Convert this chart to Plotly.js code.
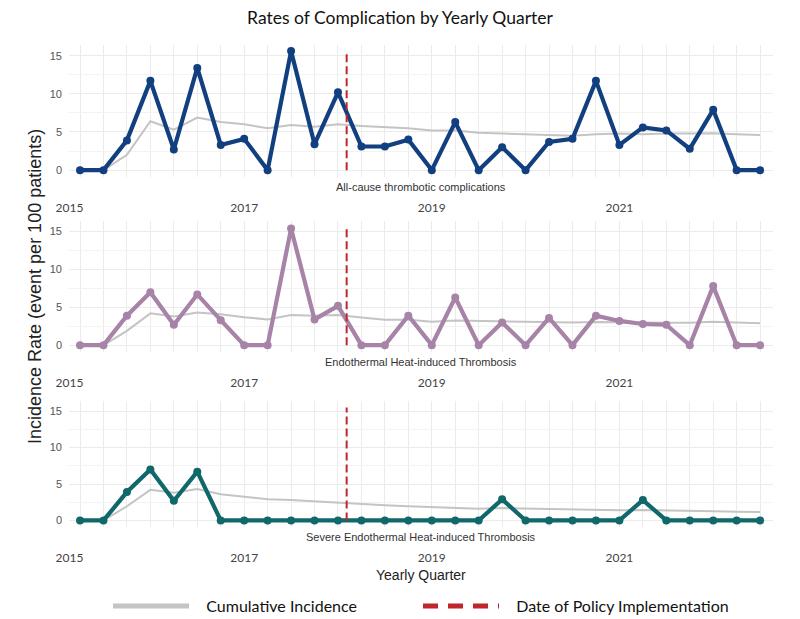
<!DOCTYPE html>
<html>
<head>
<meta charset="utf-8">
<script src="https://cdn.plot.ly/plotly-3.0.1.min.js"></script>
<style>
  html, body { margin: 0; padding: 0; background: #ffffff; }
  #chart { width: 800px; height: 619px; }
</style>
</head>
<body>
<div id="chart"></div>
<script>
// ---- Data (quarterly, 2015 Q2 .. 2022 Q3) ----
const quarters = [
  "2015 Q2","2015 Q3","2015 Q4","2016 Q1","2016 Q2","2016 Q3","2016 Q4",
  "2017 Q1","2017 Q2","2017 Q3","2017 Q4","2018 Q1","2018 Q2","2018 Q3","2018 Q4",
  "2019 Q1","2019 Q2","2019 Q3","2019 Q4","2020 Q1","2020 Q2","2020 Q3","2020 Q4",
  "2021 Q1","2021 Q2","2021 Q3","2021 Q4","2022 Q1","2022 Q2","2022 Q3"
];

const allCause = [0,0,3.9,11.7,2.7,13.4,3.3,4.1,0,15.6,3.4,10.2,3.1,3.1,4.0,
                  0,6.3,0,3.0,0,3.7,4.1,11.7,3.3,5.6,5.2,2.8,7.9,0,0];
const allCauseCum = [0,0,2.0,6.4,5.3,6.9,6.3,6.0,5.5,5.9,5.7,6.0,5.8,5.6,5.5,
                     5.2,5.2,4.9,4.8,4.7,4.6,4.5,4.7,4.8,4.7,4.8,4.8,4.85,4.7,4.6];

const eht = [0,0,3.9,7.0,2.7,6.7,3.3,0,0,15.4,3.4,5.2,0,0,3.9,
             0,6.3,0,3.0,0,3.6,0,3.9,3.2,2.8,2.7,0,7.8,0,0];
const ehtCum = [0,0,1.9,4.2,3.8,4.3,4.1,3.7,3.4,4.0,3.9,4.0,3.65,3.35,3.35,
                3.1,3.25,3.2,3.1,3.1,3.05,3.0,3.05,3.0,3.0,2.95,2.95,3.1,3.0,2.9];

const severe = [0,0,3.9,7.0,2.7,6.7,0,0,0,0,0,0,0,0,0,
                0,0,0,2.9,0,0,0,0,0,2.8,0,0,0,0,0];
const severeCum = [0,0,1.95,4.2,3.8,4.3,3.6,3.2,2.9,2.8,2.6,2.4,2.25,2.1,1.95,
                   1.8,1.7,1.6,1.7,1.65,1.55,1.5,1.45,1.4,1.45,1.35,1.3,1.25,1.2,1.15];

// policy implementation date, in quarter-index units (between 2018 Q1 and Q2)
const policyX = [11.37, 11.37];
const policyY = [0, 15.5];

// tick labels
const yearTickVals = [-0.45, 7, 15, 23];
const yearTickText = ["2015", "2017", "2019", "2021"];

const panelTitles = [
  "All-cause thrombotic complications",
  "Endothermal Heat-induced Thrombosis",
  "Severe Endothermal Heat-induced Thrombosis"
];
const legendNames = ["Cumulative Incidence", "Date of Policy Implementation"];
const seriesColors = ["#123f7f", "#a783a8", "#10686a"];
const cumColor = "#c4c4c4";
const policyColor = "#c0262c";

// ---- Build traces ----
const xIdx = quarters.map((q, i) => i);
const seriesList = [allCause, eht, severe];
const cumList = [allCauseCum, ehtCum, severeCum];
const traces = [];

seriesList.forEach((vals, k) => {
  const xa = k === 0 ? "x" : "x" + (k + 1);
  const ya = k === 0 ? "y" : "y" + (k + 1);
  traces.push({
    x: xIdx, y: cumList[k], xaxis: xa, yaxis: ya, type: "scatter", mode: "lines",
    line: { color: cumColor, width: 2 }, showlegend: false, hoverinfo: "skip",
    text: quarters
  });
  traces.push({
    x: xIdx, y: vals, xaxis: xa, yaxis: ya, type: "scatter", mode: "lines+markers",
    line: { color: seriesColors[k], width: 4.2 },
    marker: { color: seriesColors[k], size: 8 },
    showlegend: false, text: quarters
  });
  traces.push({
    x: policyX, y: policyY, xaxis: xa, yaxis: ya, type: "scatter", mode: "lines",
    line: { color: policyColor, width: 2, dash: "8px,4px" },
    showlegend: false, hoverinfo: "skip"
  });
});

// legend-only entries (thicker keys, like the reference)
const pad = "\u00a0\u00a0\u00a0";
traces.push({
  x: [null], y: [null], type: "scatter", mode: "lines", name: pad + legendNames[0],
  line: { color: cumColor, width: 5 }, showlegend: true, legend: "legend"
});
traces.push({
  x: [null], y: [null], type: "scatter", mode: "lines", name: pad + legendNames[1],
  line: { color: policyColor, width: 5, dash: "15px,10px" }, showlegend: true, legend: "legend2"
});

// ---- Layout ----
const H = 619;
const frac = (py) => 1 - py / H;

function xAxis(anchor) {
  return {
    anchor: anchor, range: [-0.47, 29.55], tickvals: yearTickVals, ticktext: yearTickText,
    showgrid: false, zeroline: false, showline: false, ticks: "",
    ticklabelstandoff: 22,
    tickfont: { family: "Lato, sans-serif", size: 12, color: "#444" },
    minor: { tick0: 0, dtick: 1, showgrid: true, gridcolor: "#ebebeb", gridwidth: 1 },
    fixedrange: true
  };
}
function yAxis(anchor, domain) {
  return {
    anchor: anchor, domain: domain, range: [-0.9, 16.4], tickvals: [0, 5, 10, 15],
    showgrid: true, gridcolor: "#ebebeb", gridwidth: 1, zeroline: false, showline: false,
    ticks: "", ticklabelstandoff: 6,
    tickfont: { family: "Liberation Sans, Arial, sans-serif", size: 11, color: "#555" },
    minor: { tick0: 0, dtick: 2.5, showgrid: true, gridcolor: "#f3f3f3", gridwidth: 1 },
    fixedrange: true
  };
}
function legendBox(leftPx) {
  return {
    orientation: "h", x: (leftPx - 69) / 704, xanchor: "left", y: frac(606), yanchor: "middle",
    font: { family: "Lato, sans-serif", size: 16, color: "#111" },
    itemwidth: 76, bgcolor: "rgba(0,0,0,0)"
  };
}

const layout = {
  width: 800, height: 619,
  margin: { l: 69, r: 27, t: 0, b: 0, autoexpand: false },
  paper_bgcolor: "#ffffff", plot_bgcolor: "#ffffff",
  title: {
    text: "Rates of Complication by Yearly Quarter",
    x: 0.5, xanchor: "center", y: frac(18), yanchor: "middle", yref: "container",
    font: { family: "Lato, sans-serif", size: 17.5, color: "#111" }
  },
  xaxis: xAxis("y"),
  xaxis2: xAxis("y2"),
  xaxis3: xAxis("y3"),
  yaxis: yAxis("x", [frac(177), frac(45)]),
  yaxis2: yAxis("x2", [frac(352), frac(221)]),
  yaxis3: yAxis("x3", [frac(527), frac(401)]),
  showlegend: true,
  legend: legendBox(108),
  legend2: legendBox(418),
  annotations: [
    { text: panelTitles[0], xref: "paper", yref: "paper", x: 0.5, y: frac(187),
      xanchor: "center", yanchor: "middle", showarrow: false,
      font: { family: "Liberation Sans, Arial, sans-serif", size: 11, color: "#333" } },
    { text: panelTitles[1], xref: "paper", yref: "paper", x: 0.5, y: frac(362),
      xanchor: "center", yanchor: "middle", showarrow: false,
      font: { family: "Liberation Sans, Arial, sans-serif", size: 11, color: "#333" } },
    { text: panelTitles[2], xref: "paper", yref: "paper", x: 0.5, y: frac(537),
      xanchor: "center", yanchor: "middle", showarrow: false,
      font: { family: "Liberation Sans, Arial, sans-serif", size: 11, color: "#333" } },
    { text: "Yearly Quarter", xref: "paper", yref: "paper", x: 0.5, y: frac(575),
      xanchor: "center", yanchor: "middle", showarrow: false,
      font: { family: "Liberation Sans, Arial, sans-serif", size: 14, color: "#222" } },
    { text: "Incidence Rate (event per 100 patients)", xref: "paper", yref: "paper",
      x: (35 - 69) / 704, y: frac(287), xanchor: "center", yanchor: "middle",
      textangle: -90, showarrow: false,
      font: { family: "Liberation Sans, Arial, sans-serif", size: 18, color: "#222" } }
  ]
};

Plotly.newPlot("chart", traces, layout, { displayModeBar: false, staticPlot: true });
</script>
</body>
</html>
